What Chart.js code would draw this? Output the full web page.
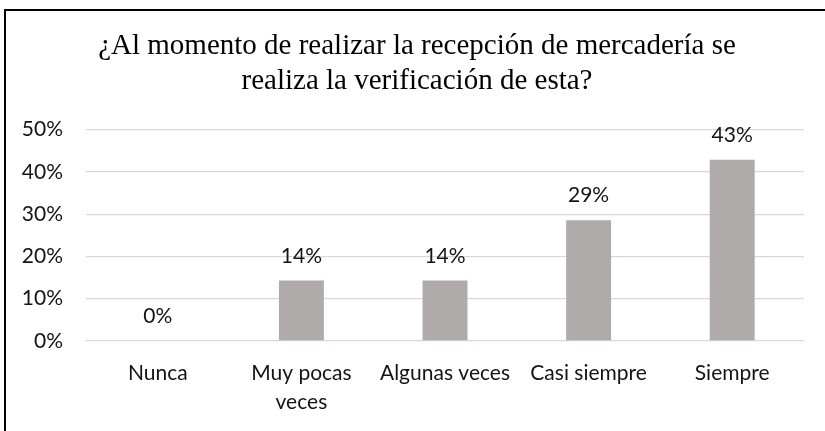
<!DOCTYPE html>
<html>
<head>
<meta charset="utf-8">
<script src="https://cdn.jsdelivr.net/npm/chart.js@4/dist/chart.umd.min.js"></script>
<style>
  html, body { margin: 0; padding: 0; background: #fff; }
  #wrap { position: absolute; left: 0; top: 0; width: 825px; height: 431px; }
  #frame { position: absolute; left: 4px; top: 9px; width: 900px; height: 500px;
           border-left: 2px solid #000; border-top: 2px solid #000; pointer-events: none; }
</style>
</head>
<body>
<div id="wrap"><canvas id="c" width="825" height="431"></canvas></div>
<div id="frame"></div>
<script>
const titleLines = ['¿Al momento de realizar la recepción de mercadería se', 'realiza la verificación de esta?'];
const categories = ['Nunca', ['Muy pocas', 'veces'], 'Algunas veces', 'Casi siempre', 'Siempre'];
const values = [0, 0.1429, 0.1429, 0.2857, 0.4286];
const yTicks = { min: 0, max: 0.5, step: 0.1 };

const tickFont = { family: 'Lato', size: 21, lineHeight: 1.38 };
const textColor = '#141414';

const valueLabels = {
  id: 'valueLabels',
  afterDatasetsDraw(chart) {
    const ctx = chart.ctx;
    const meta = chart.getDatasetMeta(0);
    ctx.save();
    ctx.font = tickFont.size + 'px ' + tickFont.family;
    ctx.fillStyle = textColor;
    ctx.textAlign = 'center';
    ctx.textBaseline = 'middle';
    meta.data.forEach((bar, i) => {
      const v = chart.data.datasets[0].data[i];
      ctx.fillText(Math.round(v * 100) + '%', bar.x, bar.y - 24.5);
    });
    ctx.restore();
  }
};

// centre the title block over the same span as the original (x 30 .. chart right)
const titleShift = {
  id: 'titleShift',
  afterLayout(chart) {
    if (chart.titleBlock) { chart.titleBlock.left = 30; }
  }
};

new Chart(document.getElementById('c'), {
  type: 'bar',
  data: {
    labels: categories,
    datasets: [{
      data: values,
      backgroundColor: '#AFABAB',
      borderWidth: 0,
      categoryPercentage: 1,
      barPercentage: 0.313
    }]
  },
  options: {
    responsive: false,
    animation: false,
    devicePixelRatio: 1,
    layout: { padding: { left: 0, right: 21, top: 0, bottom: 0 } },
    plugins: {
      legend: { display: false },
      tooltip: { enabled: false },
      title: {
        display: true,
        text: titleLines,
        color: '#000',
        font: { family: 'Liberation Serif', size: 29, weight: 'normal', lineHeight: 1.2 },
        padding: { top: 29, bottom: 31 }
      }
    },
    scales: {
      x: {
        grid: { display: false, drawTicks: false },
        border: { display: false },
        ticks: { color: textColor, font: tickFont, padding: 18, maxRotation: 0, autoSkip: false },
        afterFit(scale) { scale.height = 90; }
      },
      y: {
        min: yTicks.min,
        max: yTicks.max,
        grid: { color: '#d9d9d9', lineWidth: 1.3, drawTicks: false },
        border: { display: false },
        ticks: {
          stepSize: yTicks.step,
          color: textColor,
          font: tickFont,
          padding: 23,
          callback: v => Math.round(v * 100) + '%'
        },
        afterFit(scale) { scale.width = 86; }
      }
    }
  },
  plugins: [valueLabels, titleShift]
});
</script>
</body>
</html>
